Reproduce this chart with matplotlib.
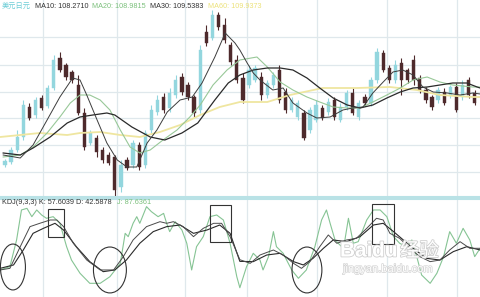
import numpy as np
import matplotlib
matplotlib.use("Agg")
import matplotlib.pyplot as plt
import matplotlib.patheffects as pe
from matplotlib.patches import Ellipse, Rectangle

plt.rcParams['font.family'] = ['Liberation Sans', 'Noto Sans CJK SC', 'DejaVu Sans']

# ---- candles (price) ----
opens = [103.2, 103.5, 104.7, 106.0, 109.0, 108.2, 109.9, 109.1, 110.9, 113.9,
         113.2, 112.5, 111.2, 108.4, 105.4, 105.9, 104.7, 104.2, 104.0, 101.0,
         103.7, 103.2, 105.2, 103.2, 106.7, 108.5, 110.0, 108.9, 110.2, 112.0,
         111.2, 110.0, 108.7, 116.5, 115.9, 118.2, 117.2, 115.2, 113.7, 111.9,
         111.2, 111.7, 112.0, 110.2, 111.2, 112.7, 110.5, 108.7, 108.0, 108.4,
         106.7, 107.7, 108.9, 108.5, 109.7, 107.7, 109.0, 110.4, 108.0, 110.0,
         109.4, 111.7, 114.4, 112.9, 111.7, 113.4, 112.7, 113.7, 111.9, 110.7,
         110.0, 109.7, 110.5, 110.2, 111.0, 110.0, 111.7, 110.4]
closes = [103.6, 104.7, 106.0, 109.2, 107.9, 109.7, 108.9, 110.9, 113.7, 112.7,
          112.0, 111.7, 108.4, 105.0, 106.4, 104.5, 103.7, 103.4, 100.7, 103.2,
          102.9, 105.4, 103.0, 106.4, 108.7, 109.7, 108.7, 110.4, 111.7, 110.5,
          110.0, 108.4, 114.7, 115.4, 118.2, 117.0, 115.7, 113.5, 111.7, 109.7,
          112.7, 112.9, 110.2, 111.4, 112.2, 109.7, 108.7, 109.7, 109.4, 105.9,
          108.7, 109.2, 107.9, 109.5, 108.0, 109.0, 110.4, 108.4, 109.4, 109.4,
          111.7, 114.5, 112.7, 111.7, 113.2, 111.7, 111.7, 111.7, 110.7, 109.7,
          109.0, 110.7, 109.4, 111.0, 108.7, 111.2, 110.2, 109.4]
highs = [103.8, 105.0, 106.7, 109.7, 109.4, 110.0, 110.2, 111.2, 114.2, 114.5,
         113.4, 112.7, 112.2, 108.9, 106.7, 106.2, 105.0, 104.5, 104.2, 103.7,
         104.0, 105.7, 105.5, 106.7, 109.2, 110.2, 110.4, 110.9, 112.2, 112.4,
         111.5, 110.2, 115.2, 117.2, 118.7, 118.5, 117.9, 115.5, 114.2, 112.4,
         113.2, 113.2, 112.5, 111.7, 112.5, 113.2, 110.9, 110.0, 109.7, 108.7,
         109.0, 109.7, 109.2, 109.9, 110.0, 109.4, 110.7, 110.9, 109.7, 110.3,
         112.0, 114.9, 114.7, 113.2, 113.7, 113.9, 112.9, 114.2, 112.2, 111.0,
         110.2, 111.0, 110.9, 111.2, 111.4, 111.7, 112.0, 110.7]
lows = [103.0, 103.3, 104.5, 105.7, 107.7, 107.9, 108.7, 108.9, 110.7, 112.5,
        111.7, 111.4, 108.2, 104.7, 105.2, 104.0, 103.4, 103.2, 100.1, 100.5,
        102.7, 102.9, 102.7, 102.9, 106.4, 108.2, 108.4, 108.5, 109.9, 110.2,
        109.7, 108.0, 108.4, 115.1, 115.7, 116.7, 115.4, 113.2, 111.4, 109.4,
        110.9, 111.5, 109.7, 109.9, 110.9, 109.4, 108.4, 108.5, 107.7, 105.7,
        106.4, 107.5, 107.7, 108.2, 107.7, 107.5, 108.7, 108.2, 107.7, 109.1,
        109.1, 111.4, 112.5, 111.4, 111.4, 110.2, 111.4, 111.2, 110.4, 109.4,
        108.7, 109.4, 109.2, 109.9, 108.5, 109.7, 109.9, 109.2]

# ---- moving averages (day, value) ----
ma10_days = [-0.3, 2.5, 4.6, 6.9, 9.0, 11.1, 12.3, 13.4, 15.1, 16.7, 18.4, 20.0, 21.6, 23.3,
             24.9, 26.6, 28.7, 30.7, 32.3, 34.4, 36.1, 37.7, 38.5, 39.7, 40.7, 41.8, 43.9,
             45.6, 47.2, 49.5, 51.1, 53.3, 55.4, 57.0, 58.7, 60.3, 62.0, 63.6, 65.2, 66.9,
             68.5, 70.2, 72.5, 74.6, 76.7, 77.9]
ma10 = [104.2, 103.9, 105.2, 107.7, 110.0, 111.9, 111.7, 110.2, 107.7, 105.4, 103.7, 103.0, 103.0, 105.4,
        106.7, 108.5, 109.7, 110.0, 111.4, 114.0, 116.4, 115.4, 114.7, 113.4, 112.4, 111.7, 110.7,
        110.9, 109.4, 108.4, 107.9, 108.0, 108.7, 108.9, 109.0, 110.4, 111.5, 112.5, 112.7, 112.2,
        111.0, 110.5, 110.4, 110.2, 110.4, 110.3]
ma20_days = [-0.3, 2.5, 4.6, 6.9, 9.0, 10.7, 12.3, 13.9, 15.6, 17.2, 18.9, 20.5, 22.1, 23.8,
             25.9, 28.2, 30.3, 32.0, 34.1, 36.4, 38.5, 41.3, 43.0, 45.1, 47.2, 49.5, 51.6,
             53.8, 56.1, 58.2, 60.3, 62.6, 64.8, 66.9, 69.2, 71.3, 73.4, 76.7, 77.9]
ma20 = [104.0, 104.2, 105.0, 106.4, 108.0, 109.4, 110.2, 110.2, 109.7, 108.7, 106.7, 105.0, 104.4, 104.7,
        105.7, 106.7, 108.0, 109.2, 111.2, 112.7, 113.7, 114.0, 113.0, 111.5, 110.7, 110.0, 109.5,
        109.0, 108.9, 108.9, 109.5, 110.2, 110.9, 111.7, 112.0, 111.5, 111.2, 111.0, 111.0]
ma30_days = [-0.3, 2.5, 4.6, 7.4, 10.2, 12.3, 14.4, 16.7, 18.0, 20.8, 23.8, 26.2, 29.0, 31.6,
             34.4, 36.6, 38.5, 40.7, 43.0, 45.1, 47.2, 49.5, 51.6, 53.8, 56.1, 58.2, 60.3,
             62.6, 64.8, 66.9, 69.2, 71.3, 73.4, 75.7, 77.4, 77.9]
ma30 = [104.4, 104.2, 104.9, 106.0, 107.4, 108.0, 108.2, 108.4, 108.2, 107.0, 106.0, 105.7, 106.4, 107.4,
        109.7, 111.4, 112.2, 112.7, 112.9, 112.9, 112.7, 111.9, 110.9, 109.9, 109.2, 108.9, 109.2,
        109.9, 110.5, 110.9, 111.0, 111.2, 111.4, 111.4, 111.0, 110.9]
ma60_days = [-0.8, 2.5, 5.7, 10.2, 12.3, 15.6, 18.9, 22.1, 25.4, 28.7, 32.0, 35.2, 38.5, 43.0,
             46.7, 52.1, 57.7, 63.1, 67.5, 71.3, 76.7, 77.9]
ma60 = [106.0, 106.2, 106.4, 106.2, 106.4, 106.5, 106.2, 106.0, 106.5, 107.2, 108.2, 109.0, 109.5, 109.5,
        110.2, 110.9, 110.9, 111.0, 110.7, 110.2, 110.0, 110.0]

# ---- KDJ (day, value) ----
j_days = [-0.8, 0.8, 1.9, 2.7, 3.6, 4.4, 5.2, 6.0, 6.8, 7.9, 9.0, 10.1, 10.9, 12.3, 13.9, 15.6,
          17.2, 18.9, 19.7, 20.2, 21.0, 21.6, 22.1, 23.2, 24.0, 25.1, 26.0, 26.5, 27.0, 27.9,
          29.0, 29.8, 30.6, 31.4, 32.5, 33.6, 34.7, 35.8, 36.9, 38.0, 38.5, 39.6, 40.7, 41.8,
          42.3, 43.2, 44.0, 44.5, 45.6, 47.0, 48.1, 49.4, 50.8, 51.9, 52.7, 53.3, 54.1, 54.9,
          55.5, 56.3, 57.1, 57.9, 59.3, 60.4, 61.5, 62.6, 63.7, 64.7, 65.8, 66.7, 67.5, 68.3,
          69.7, 70.8, 71.9, 72.9, 74.0, 75.1, 76.2, 77.0, 77.9]
j_vals = [25.9, 29.8, 61.2, 96.5, 98.4, 88.6, 96.5, 90.6, 86.7, 88.6, 80.8, 53.3, 37.6, 22.0, 10.2, 10.2,
          18.0, 33.7, 69.0, 65.1, 80.8, 88.6, 80.8, 100.4, 94.5, 88.6, 92.5, 80.8, 71.0, 82.7,
          72.9, 57.3, 25.9, 53.3, 65.1, 88.6, 90.6, 84.7, 57.3, 18.0, 5.0, 29.8, 45.5, 37.6,
          25.9, 41.6, 71.0, 53.3, 45.5, 25.9, 16.1, 25.9, 53.3, 84.7, 96.5, 80.8, 61.2, 55.3,
          51.4, 86.7, 57.3, 59.2, 84.7, 96.5, 96.5, 88.6, 65.1, 57.3, 53.3, 61.2, 41.6, 20.0,
          10.2, 22.0, 41.6, 71.0, 57.3, 74.9, 61.2, 41.6, 51.4]
k_days = [-0.8, 0.8, 2.5, 4.1, 5.7, 7.4, 8.5, 9.6, 11.2, 13.4, 15.6, 17.8, 19.4, 21.0, 23.2,
          25.4, 26.5, 27.6, 29.2, 30.9, 32.5, 34.2, 35.5, 36.9, 38.5, 40.2, 41.8, 44.0, 45.6,
          47.3, 48.6, 50.0, 51.6, 53.0, 54.4, 56.0, 57.6, 59.3, 60.9, 62.0, 63.1, 64.7, 66.4,
          68.0, 69.7, 71.3, 72.9, 74.6, 76.2, 77.9]
k_vals = [25.9, 27.8, 53.3, 76.9, 80.8, 84.7, 84.7, 76.9, 57.3, 37.6, 25.9, 25.9, 41.6, 61.2, 76.9,
          82.7, 80.8, 82.7, 76.9, 65.1, 74.9, 80.8, 80.8, 65.1, 38.0, 33.7, 43.5, 49.4, 43.5,
          33.7, 27.8, 35.7, 53.3, 67.1, 57.3, 61.2, 63.1, 74.9, 86.7, 84.7, 69.0, 63.1, 51.4,
          41.6, 35.7, 37.6, 49.4, 59.2, 51.4, 51.4]
d_days = [-0.8, 1.4, 3.0, 4.6, 6.3, 8.2, 9.6, 11.7, 13.9, 16.1, 18.0, 19.9, 22.1, 24.3, 26.5,
          28.7, 30.9, 33.1, 35.2, 36.9, 38.5, 40.7, 42.9, 45.1, 47.3, 48.9, 50.5, 52.2, 53.8,
          56.0, 58.2, 60.4, 62.0, 63.7, 65.3, 66.9, 69.1, 71.3, 73.5, 75.7, 77.9]
d_vals = [27.8, 31.8, 49.4, 69.0, 74.9, 80.8, 72.9, 53.3, 35.7, 23.9, 25.9, 37.6, 57.3, 71.0, 76.9,
          78.8, 69.0, 72.9, 78.8, 69.0, 36.0, 35.7, 43.5, 45.5, 35.7, 31.8, 39.6, 51.4, 61.2,
          59.2, 65.1, 78.8, 80.8, 71.0, 61.2, 51.4, 39.6, 37.6, 47.5, 53.3, 49.4]

# annotation marks drawn on the KDJ panel (day, value)
ring_days = [1.3, 17.2, 49.5]
ring_vals = [29.4, 25.9, 25.9]
box_days = [(7.0, 9.7), (33.6, 37.0), (60.2, 63.8)]
box_vals = [(64.7, 97.6), (58.8, 102.4), (56.5, 103.5)]

grid_days = [6.2, 18.4, 29.5, 39.7, 51.1, 62.6, 74.1]
price_grid = [102.5, 105.2, 107.9, 110.5, 113.2, 116.0]

header = [('美元日元', '#6ccdd6'), ('MA10: 108.2710', '#333333'), ('MA20: 108.9815', '#7cc07c'),
          ('MA30: 109.5383', '#333333'), ('MA60: 109.9373', '#ece27a')]
kdj_header = [('KDJ(9,3,3) K: 57.6039 D: 42.5878', '#333333'), ('J: 87.6361', '#7cc07c')]

up_col = '#93d6de'
down_col = '#4e2a2c'
grid_col = '#dfe8ec'
edge_col = '#b9e2e6'

fig = plt.figure(figsize=(4.8, 2.97), dpi=100)
fig.patch.set_facecolor('white')
ax = fig.add_axes([0, 100 / 297, 1, 197 / 297])
axk = fig.add_axes([0, 0, 1, 98 / 297])

for a in (ax, axk):
    a.set_xlim(-0.82, 77.87)
    a.set_xticks([])
    a.set_yticks([])
    for d in grid_days:
        a.axvline(d, color=grid_col, lw=0.9, zorder=0)
    for s in a.spines.values():
        s.set_visible(False)

ax.set_ylim(100, 119.7)
for p in price_grid:
    ax.axhline(p, color=grid_col, lw=0.9, zorder=0)
ax.spines['bottom'].set_visible(True)
ax.spines['bottom'].set_color(edge_col)
ax.spines['bottom'].set_linewidth(1.5)

days = np.arange(len(opens))
o = np.array(opens)
c = np.array(closes)
up = c >= o
colors = np.where(up, up_col, down_col)
ax.vlines(days, lows, highs, colors=colors, lw=0.8, zorder=2)
ax.bar(days, np.abs(c - o) + 0.05, bottom=np.minimum(o, c), width=0.55,
       color=colors, edgecolor=colors, lw=0.3, zorder=3)

ax.plot(ma60_days, ma60, color='#efe6a0', lw=1.3, zorder=4)
ax.plot(ma20_days, ma20, color='#98c898', lw=0.8, zorder=4)
ax.plot(ma30_days, ma30, color='#2a2a2a', lw=0.9, zorder=5)
ax.plot(ma10_days, ma10, color='#3c3c3c', lw=0.7, zorder=5)

# KDJ panel
axk.set_ylim(-5.9, 109.4)
axk.spines['top'].set_visible(True)
axk.spines['top'].set_color(edge_col)
axk.spines['top'].set_linewidth(1.5)
axk.plot(j_days, j_vals, color='#86c494', lw=0.8, zorder=3)
axk.plot(d_days, d_vals, color='#2a2a2a', lw=0.8, zorder=4)
axk.plot(k_days, k_vals, color='#4a4a4a', lw=0.7, zorder=4)

for d, v, w in zip(ring_days, ring_vals, [4.1, 5.4, 4.9]):
    axk.add_patch(Ellipse((d, v), w, 54, fill=False, ec='#333333', lw=0.8, zorder=6))
for (d0, d1), (v0, v1) in zip(box_days, box_vals):
    axk.add_patch(Rectangle((d0, v0), d1 - d0, v1 - v0, fill=False, ec='#333333', lw=0.8, zorder=6))


# header texts, laid out one after another
def row(items, x0, y_px, gap=4):
    r = fig.canvas.get_renderer()
    x = x0
    for s, col in items:
        t = fig.text(x / 480, 1 - y_px / 297, s, color=col, fontsize=5.2, va='center',
                     family=['Liberation Sans', 'Noto Sans CJK SC', 'DejaVu Sans'])
        x += t.get_window_extent(renderer=r).width + gap


row(header, 2, 6)
row(kdj_header, 2, 203, gap=5)

# watermark
wm = [pe.withStroke(linewidth=1.2, foreground='#cfcfcf')]
fig.text(340 / 480, 1 - 251 / 297, 'Bai', color='white', fontsize=15, va='center',
         fontweight='bold', path_effects=wm, zorder=10)
fig.text(372 / 480, 1 - 251 / 297, 'du', color='white', fontsize=15, va='center',
         fontweight='bold', path_effects=wm, zorder=10)
fig.text(400 / 480, 1 - 251 / 297, '经验', color='white', fontsize=14, va='center',
         family=['Noto Sans CJK SC', 'DejaVu Sans'], path_effects=wm, zorder=10)
fig.text(343 / 480, 1 - 269 / 297, 'jingyan.baidu.com', color='white', fontsize=8, va='center',
         path_effects=[pe.withStroke(linewidth=1.0, foreground='#d4d4d4')], zorder=10)

fig.savefig('out.png', dpi=100)
